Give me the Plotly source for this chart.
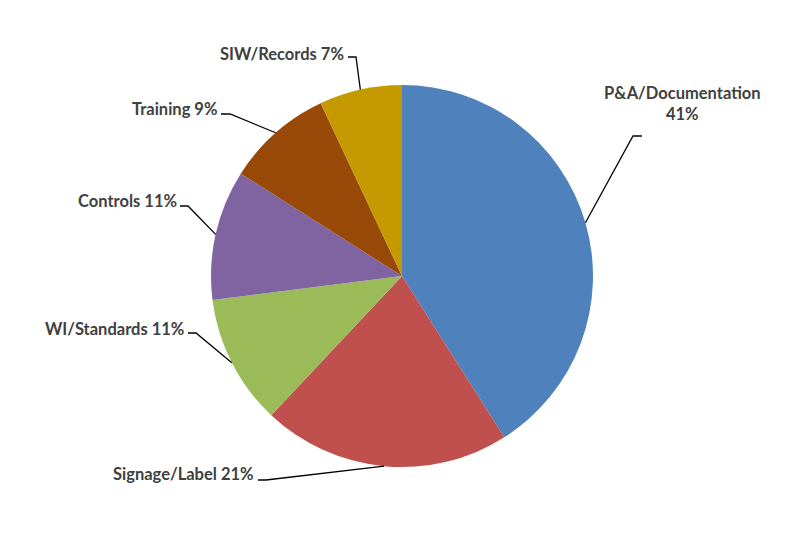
import math
import plotly.graph_objects as go

categories = ["P&A/Documentation", "Signage/Label", "WI/Standards", "Controls", "Training", "SIW/Records"]
values = [41, 21, 11, 11, 9, 7]
colors = ["#4F81BD", "#C0504D", "#9BBB59", "#8064A2", "#984807", "#C49A00"]

OFF = 8  # page body margin in the browser
W, H = 800 - OFF, 552 - OFF

def px(x, y):
    """convert window pixel coordinates to paper coordinates"""
    return (x - OFF) / W, 1 - (y - OFF) / H

dom_x = [px(211, 0)[0], px(593, 0)[0]]
dom_y = [px(0, 467)[1], px(0, 85)[1]]

# label layout (window pixels): elbow point, end of horizontal tick, text anchor
label_layout = [
    dict(elbow=(633, 136), end=(642, 136), text=(682, 126), xanchor="center", yanchor="bottom", br=True),
    dict(elbow=(266, 480), end=(258, 480), text=(256, 474), xanchor="right", yanchor="middle", br=False),
    dict(elbow=(196, 333), end=(188, 333), text=(186, 329), xanchor="right", yanchor="middle", br=False),
    dict(elbow=(188, 206), end=(180, 206), text=(179, 201), xanchor="right", yanchor="middle", br=False),
    dict(elbow=(230, 114), end=(221, 114), text=(219, 109), xanchor="right", yanchor="middle", br=False),
    dict(elbow=(356, 57), end=(348, 57), text=(346, 54), xanchor="right", yanchor="middle", br=False),
]

fig = go.Figure(go.Pie(
    labels=categories, values=values, sort=False, direction="clockwise", rotation=0,
    marker=dict(colors=colors, line=dict(width=0)),
    textinfo="none", hoverinfo="label+percent", showlegend=False,
    domain=dict(x=dom_x, y=dom_y),
))

cx = (211 + 593) / 2
cy = (85 + 467) / 2
r = (593 - 211) / 2
total = sum(values)

shapes, annotations = [], []
cum = 0
for cat, v, lay in zip(categories, values, label_layout):
    mid = (cum + v / 2) / total * 2 * math.pi
    cum += v
    ex, ey = cx + r * math.sin(mid), cy - r * math.cos(mid)
    pts = [px(ex, ey), px(*lay["elbow"]), px(*lay["end"])]
    path = "M {} {} L {} {} L {} {}".format(*[c for p in pts for c in p])
    shapes.append(dict(type="path", path=path, xref="paper", yref="paper",
                       line=dict(color="black", width=1.3)))
    pct = round(v / total * 100)
    txt = f"{cat}<br>{pct}%" if lay["br"] else f"{cat} {pct}%"
    tx, ty = px(*lay["text"])
    annotations.append(dict(x=tx, y=ty, xref="paper", yref="paper", text=txt,
                            showarrow=False, xanchor=lay["xanchor"], yanchor=lay["yanchor"],
                            align="center", font=dict(family="Lato", size=16.5, color="#404040", weight="bold")))

fig.update_layout(
    width=W, height=H, margin=dict(l=0, r=0, t=0, b=0),
    paper_bgcolor="white", plot_bgcolor="white",
    shapes=shapes, annotations=annotations,
)
fig.write_html("out.html")
